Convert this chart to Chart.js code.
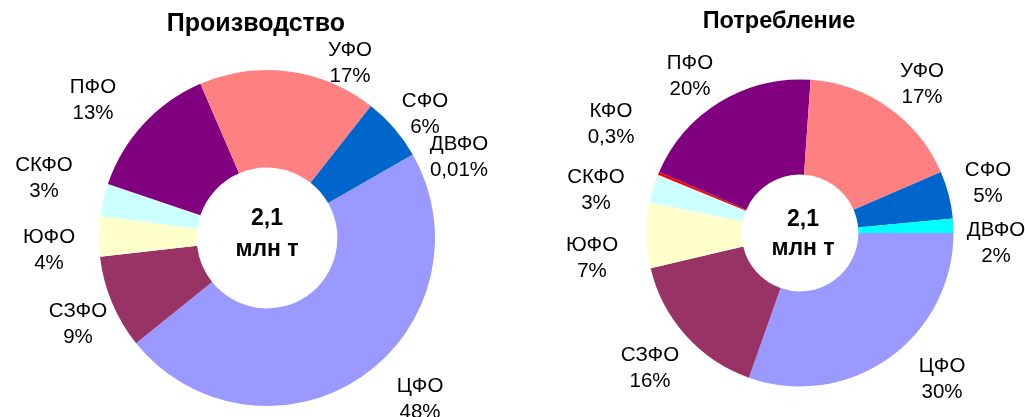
<!DOCTYPE html>
<html>
<head>
<meta charset="utf-8">
<script src="https://cdn.jsdelivr.net/npm/chart.js@4"></script>
<style>
  html, body { margin: 0; padding: 0; background: #fff; overflow: hidden; }
  #wrap { position: relative; width: 1025px; height: 417px; }
  canvas { position: absolute; top: 0; }
  #c1 { left: 0; }
  #c2 { left: 512px; }
</style>
</head>
<body>
<div id="wrap">
  <canvas id="c1" width="512" height="417"></canvas>
  <canvas id="c2" width="513" height="417"></canvas>
</div>
<script>
// ---- data ----
const prodCategories = ['ЦФО', 'СЗФО', 'ЮФО', 'СКФО', 'ПФО', 'УФО', 'СФО', 'ДВФО'];
const prodValues     = [47.5, 9.0, 3.9, 3.1, 13.3, 17.1, 6.1, 0.01];
const prodPctLabels  = ['48%', '9%', '4%', '3%', '13%', '17%', '6%', '0,01%'];

const consCategories = ['ЦФО', 'СЗФО', 'ЮФО', 'СКФО', 'КФО', 'ПФО', 'УФО', 'СФО', 'ДВФО'];
const consValues     = [30.4, 15.9, 6.9, 3.0, 0.3, 19.6, 17.4, 5.0, 1.5];
const consPctLabels  = ['30%', '16%', '7%', '3%', '0,3%', '20%', '17%', '5%', '2%'];

const totalLines = ['2,1', 'млн т'];

// ---- styles ----
const FONT = '"Liberation Sans", Arial, sans-serif';
const COLORS = {
  'ЦФО': '#9999FF', 'СЗФО': '#993366', 'ЮФО': '#FFFFCC', 'СКФО': '#CCFFFF',
  'КФО': '#FF0000', 'ПФО': '#800080', 'УФО': '#FF8080', 'СФО': '#0066CC', 'ДВФО': '#00FFFF'
};

// label block offsets from the doughnut centre (layout only)
const prodLabelOffsets = {
  'ЦФО': [153, 161], 'СЗФО': [-189, 86], 'ЮФО': [-218, 12], 'СКФО': [-223, -60],
  'ПФО': [-174, -138], 'УФО': [83, -175], 'СФО': [158, -124], 'ДВФО': [192, -81]
};
const consLabelOffsets = {
  'ЦФО': [142, 146], 'СЗФО': [-150, 135], 'ЮФО': [-208, 25], 'СКФО': [-204, -43],
  'КФО': [-189, -109], 'ПФО': [-110, -157], 'УФО': [122, -149], 'СФО': [188, -50], 'ДВФО': [196, 10]
};

const textPlugin = {
  id: 'texts',
  afterDraw(chart, args, o) {
    const ctx = chart.ctx;
    const arc = chart.getDatasetMeta(0).data[0];
    const cx = arc.x, cy = arc.y;
    ctx.save();
    ctx.fillStyle = '#000';
    ctx.textAlign = 'center';
    // title
    ctx.textBaseline = 'alphabetic';
    ctx.font = 'bold ' + o.titleSize + 'px ' + FONT;
    ctx.fillText(o.title, o.titleX, o.titleY);
    // centre text
    ctx.textBaseline = 'middle';
    ctx.font = 'bold ' + o.centerSize + 'px ' + FONT;
    o.centerLines.forEach((t, i) => ctx.fillText(t, cx + o.centerDX, cy + o.centerDY[i]));
    // labels
    ctx.font = o.labelSize + 'px ' + FONT;
    chart.data.labels.forEach((lab, i) => {
      const off = o.offsets[lab];
      const x = cx + off[0], y = cy + off[1];
      ctx.fillText(lab, x, y - o.lineGap / 2);
      ctx.fillText(o.pct[i], x, y + o.lineGap / 2);
    });
    ctx.restore();
  }
};

function makeChart(id, cats, vals, pct, rotation, radius, cutout, padding, textOpts) {
  return new Chart(document.getElementById(id), {
    type: 'doughnut',
    data: {
      labels: cats,
      datasets: [{
        data: vals,
        backgroundColor: cats.map(c => COLORS[c]),
        borderWidth: 0,
        hoverOffset: 0
      }]
    },
    options: {
      responsive: false,
      animation: false,
      devicePixelRatio: 1,
      rotation: rotation,
      radius: radius,
      cutout: cutout,
      layout: { padding: padding },
      plugins: {
        legend: { display: false },
        tooltip: { enabled: false },
        title: { display: false },
        texts: Object.assign({ pct: pct, centerLines: totalLines }, textOpts)
      }
    },
    plugins: [textPlugin]
  });
}

makeChart('c1', prodCategories, prodValues, prodPctLabels, 60.2, 168, 75,
  { left: 22, right: 0, top: 59, bottom: 0 },
  { title: 'Производство', titleSize: 25, titleX: 256, titleY: 31,
    centerSize: 23, centerDX: 0, centerDY: [-19, 12],
    labelSize: 20.5, lineGap: 26, offsets: prodLabelOffsets });

makeChart('c2', consCategories, consValues, consPctLabels, 90, 153.5, 70,
  { left: 63, right: 0, top: 49, bottom: 0 },
  { title: 'Потребление', titleSize: 23.5, titleX: 267, titleY: 28,
    centerSize: 23, centerDX: 3, centerDY: [-13, 16],
    labelSize: 20.5, lineGap: 26, offsets: consLabelOffsets });
</script>
</body>
</html>
